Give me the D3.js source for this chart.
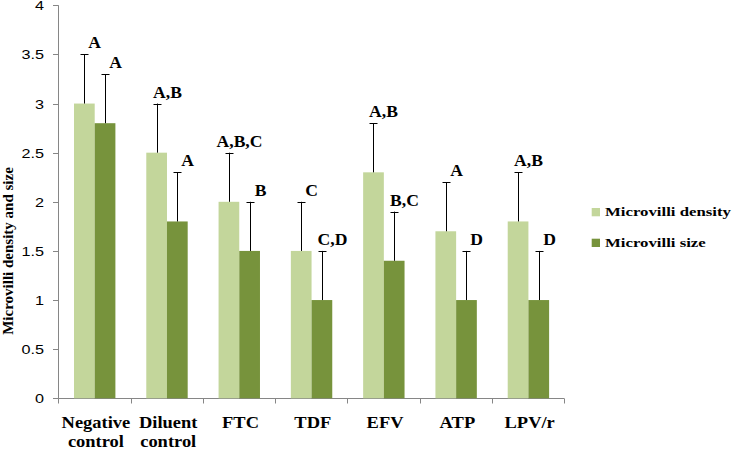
<!DOCTYPE html>
<html><head><meta charset="utf-8">
<script src="https://cdn.jsdelivr.net/npm/d3@7/dist/d3.min.js"></script>
<style>body{margin:0;background:#fff;}svg{display:block;}</style>
</head><body>
<script>
const categories = [["Negative","control"],["Diluent","control"],["FTC"],["TDF"],["EFV"],["ATP"],["LPV/r"]];
const seriesNames = ["Microvilli density","Microvilli size"];
const density = [3.0, 2.5, 2.0, 1.5, 2.3, 1.7, 1.8];
const size = [2.8, 1.8, 1.5, 1.0, 1.4, 1.0, 1.0];
const densityErr = [0.5, 0.5, 0.5, 0.5, 0.5, 0.5, 0.5];
const sizeErr = [0.5, 0.5, 0.5, 0.5, 0.5, 0.5, 0.5];
const densityLetters = ["A","A,B","A,B,C","C","A,B","A","A,B"];
const sizeLetters = ["A","A","B","C,D","B,C","D","D"];
const yTicks = [0,0.5,1,1.5,2,2.5,3,3.5,4];

const W=734,H=450;
const colors=["#c3d69b","#77933c"];
const axisColor="#868686";
const serif="Liberation Serif, Times New Roman, serif";
const svg=d3.select("body").append("svg").attr("width",W).attr("height",H);

const catKeys=categories.map(c=>c.join(" "));
const x=d3.scaleBand().domain(catKeys).range([58.3,564.3]).padding(0);
const x1=d3.scaleBand().domain(seriesNames).range([15.7,15.7+41.4]).padding(0);
const y=d3.scaleLinear().domain([0,4]).range([398.3,5.3]);

function stext(g,tx,ty,sx,str){
  return g.append("text").attr("transform",`translate(${tx},${ty}) scale(${sx},1)`).text(str);
}

// y axis
const ya=svg.append("g");
ya.append("line").attr("x1",58.5).attr("x2",58.5).attr("y1",y(4)).attr("y2",y(0)).attr("stroke",axisColor);
yTicks.forEach(t=>{
  ya.append("line").attr("x1",53).attr("x2",58.5).attr("y1",Math.round(y(t))+0.5).attr("y2",Math.round(y(t))+0.5).attr("stroke",axisColor);
  stext(ya,44,y(t)+5,1.2,String(t)).attr("text-anchor","end").attr("font-family","Liberation Sans, Arial, sans-serif").attr("font-size",13.5).attr("fill","#000");
});

// x axis
const xa=svg.append("g");
xa.append("line").attr("x1",58.3).attr("x2",564.3).attr("y1",398.5).attr("y2",398.5).attr("stroke",axisColor);
const bounds=catKeys.map(k=>x(k)).concat([x.range()[1]]);
bounds.forEach(b=>{
  xa.append("line").attr("x1",Math.round(b)+0.5).attr("x2",Math.round(b)+0.5).attr("y1",398.5).attr("y2",403.5).attr("stroke",axisColor);
});
categories.forEach((c,i)=>{
  const cx=x(catKeys[i])+x.bandwidth()/2+1.5;
  c.forEach((line,j)=>{
    stext(xa,cx,427.5+j*19.5,1.12,line).attr("text-anchor","middle").attr("font-family",serif).attr("font-weight","bold").attr("font-size",16.5).attr("fill","#000");
  });
});

// bars
const seriesVals=[density,size], seriesErr=[densityErr,sizeErr], seriesLetters=[densityLetters,sizeLetters];
seriesNames.forEach((s,si)=>{
  const g=svg.append("g");
  g.selectAll("rect").data(seriesVals[si]).join("rect")
    .attr("x",(d,i)=>x(catKeys[i])+x1(s))
    .attr("width",x1.bandwidth())
    .attr("y",d=>y(d)).attr("height",d=>y(0)-y(d))
    .attr("fill",colors[si]);
});
// error bars and letters
seriesNames.forEach((s,si)=>{
  const g=svg.append("g");
  seriesVals[si].forEach((v,i)=>{
    const cx=Math.round(x(catKeys[i])+x1(s)+x1.bandwidth()/2)+0.5;
    const top=y(v+seriesErr[si][i]);
    g.append("line").attr("x1",cx).attr("x2",cx).attr("y1",y(v)).attr("y2",top).attr("stroke","#000");
    g.append("line").attr("x1",cx-4).attr("x2",cx+4).attr("y1",Math.round(top)+0.5).attr("y2",Math.round(top)+0.5).attr("stroke","#000");
    stext(g,cx+10,top-6,1.1,seriesLetters[si][i]).attr("text-anchor","middle").attr("font-family",serif).attr("font-weight","bold").attr("font-size",16).attr("fill","#000");
  });
});

// y title
svg.append("text").attr("transform","translate(12.5,251) rotate(-90)").attr("text-anchor","middle")
  .attr("font-family",serif).attr("font-weight","bold").attr("font-size",15).attr("fill","#000")
  .text("Microvilli density and size");

// legend
const lg=svg.append("g");
seriesNames.forEach((s,si)=>{
  const by=216+si*30.7;
  lg.append("rect").attr("x",591.7).attr("y",by-8).attr("width",8.3).attr("height",8.3).attr("fill",colors[si]);
  stext(lg,605,by,1.29,s).attr("font-family",serif).attr("font-weight","bold").attr("font-size",13).attr("fill","#000");
});
</script>
</body></html>
